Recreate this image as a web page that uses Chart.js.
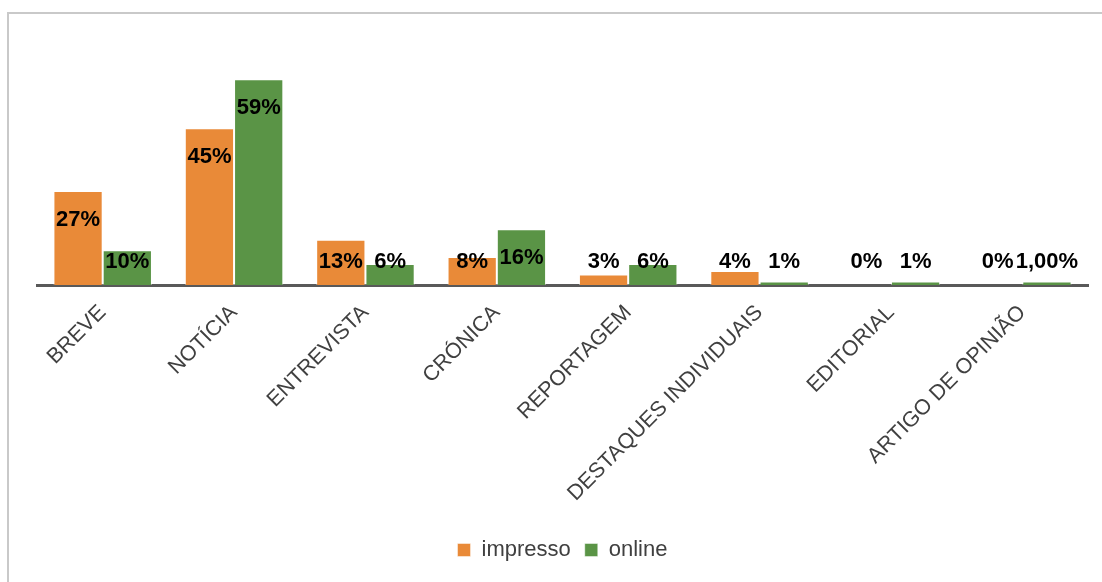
<!DOCTYPE html>
<html>
<head>
<meta charset="utf-8">
<script src="https://cdn.jsdelivr.net/npm/chart.js@4/dist/chart.umd.min.js"></script>
<style>
  html, body { margin: 0; padding: 0; background: #ffffff; }
  #wrap { position: relative; width: 1102px; height: 582px; overflow: hidden; }
  #frame {
    position: absolute; left: 7px; top: 12px; width: 1200px; height: 700px;
    border-left: 2px solid #c9c9c9; border-top: 2px solid #c9c9c9;
  }
  #c { position: absolute; left: 0; top: 0; }
</style>
</head>
<body>
<div id="wrap">
  <div id="frame"></div>
  <canvas id="c" width="1102" height="582"></canvas>
</div>
<script>
// Genre categories
const categories = [
  'BREVE', 'NOTÍCIA', 'ENTREVISTA', 'CRÓNICA', 'REPORTAGEM',
  'DESTAQUES INDIVIDUAIS', 'EDITORIAL', 'ARTIGO DE OPINIÃO'
];
// Share of pieces per genre (%)
const impresso = [27, 45, 13, 8, 3, 4, 0, 0];
const online   = [10, 59, 6, 16, 6, 1, 1, 1];
// Decimal places shown in each value label
const impressoDecimals = [0, 0, 0, 0, 0, 0, 0, 0];
const onlineDecimals   = [0, 0, 0, 0, 0, 0, 0, 2];

const ORANGE = '#E98A38';
const GREEN = '#5A9446';
const TEXT = '#404040';
const FONT = '"Liberation Sans", Arial, sans-serif';

function fmt(v, d) {
  return v.toFixed(d).replace('.', ',') + '%';
}

// Value labels: inside the top of tall bars, otherwise just above the axis line
const valueLabels = {
  id: 'valueLabels',
  afterDatasetsDraw(chart) {
    const ctx = chart.ctx;
    const size = 22;
    ctx.save();
    ctx.font = 'bold ' + size + 'px ' + FONT;
    ctx.fillStyle = '#000000';
    ctx.textAlign = 'center';
    ctx.textBaseline = 'alphabetic';
    chart.data.datasets.forEach((ds, di) => {
      const meta = chart.getDatasetMeta(di);
      meta.data.forEach((bar, i) => {
        const yMid = Math.min(bar.y + 27, bar.base - 25);
        ctx.fillText(fmt(ds.data[i], ds.decimals[i]), bar.x, yMid + size * 0.36);
      });
    });
    ctx.restore();
  }
};

new Chart(document.getElementById('c'), {
  type: 'bar',
  data: {
    labels: categories,
    datasets: [
      {
        label: 'impresso', data: impresso, decimals: impressoDecimals,
        backgroundColor: ORANGE, borderColor: 'rgba(255,255,255,0.45)', borderWidth: 1
      },
      {
        label: 'online', data: online, decimals: onlineDecimals,
        backgroundColor: GREEN, borderColor: 'rgba(255,255,255,0.45)', borderWidth: 1
      }
    ]
  },
  options: {
    responsive: false,
    devicePixelRatio: 1,
    animation: false,
    layout: { padding: { top: 41, left: 37, right: 14, bottom: 11 } },
    datasets: { bar: { categoryPercentage: 0.75, barPercentage: 1.0 } },
    scales: {
      x: {
        grid: { display: false, drawTicks: false },
        border: { display: true, color: '#595959', width: 3 },
        ticks: {
          autoSkip: false, maxRotation: 45, minRotation: 45, padding: 15,
          color: TEXT, font: { family: FONT, size: 21.5 }
        },
        afterFit(scale) { scale.height = 240; }
      },
      y: {
        display: false, min: 0, max: 70
      }
    },
    plugins: {
      legend: {
        position: 'bottom',
        labels: {
          boxWidth: 13, boxHeight: 13, padding: 14,
          color: TEXT, font: { family: FONT, size: 22 }
        }
      },
      tooltip: { enabled: false }
    }
  },
  plugins: [valueLabels]
});
</script>
</body>
</html>
